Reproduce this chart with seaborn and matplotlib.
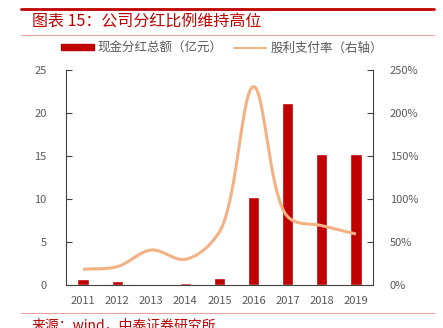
import numpy as np
import pandas as pd
import matplotlib
matplotlib.use("Agg")
import matplotlib.pyplot as plt
import seaborn as sns
from matplotlib.lines import Line2D
from matplotlib.patches import Patch

sns.set_theme(style="white")
plt.rcParams['font.family'] = ['Noto Sans CJK SC', 'DejaVu Sans']

years = ["2011", "2012", "2013", "2014", "2015", "2016", "2017", "2018", "2019"]
dividend = [0.7, 0.43, 0.05, 0.2, 0.78, 10.2, 21.2, 15.2, 15.2]
payout = [18.3, 21.3, 40.7, 29.9, 62.0, 230.6, 79.4, 69.0, 59.3]
left_ticks = [0, 5, 10, 15, 20, 25]
right_ticks = [0, 50, 100, 150, 200, 250]

BAR = "#C00000"
LINE = "#F4B183"
GRAY = "#595959"
SPINE = "#404040"

fig = plt.figure(figsize=(4.43, 3.28), dpi=100)
ax = fig.add_axes([66/443, 1-285/328, (373-66)/443, (285-70)/328])

df = pd.DataFrame({"year": years, "dividend": dividend})
sns.barplot(data=df, x="year", y="dividend", color=BAR, saturation=1, width=0.33, ax=ax)
ax.set_xlim(-0.5, len(years)-0.5)
ax.set_ylim(0, 25)
ax.set_yticks(left_ticks)
ax.set_xlabel("")
ax.set_ylabel("")

ax2 = ax.twinx()
# Centripetal Catmull-Rom smoothing of the drawn path, in pixel-like space
sx, sy = 34.1, 215/250
x = np.arange(len(payout), dtype=float) * sx
y = np.array(payout, dtype=float) * sy
P = np.column_stack([x, y])
P = np.vstack([2*P[0]-P[1], P, 2*P[-1]-P[-2]])
curve = []
alpha = 0.5
for i in range(1, len(P)-2):
    p0, p1, p2, p3 = P[i-1], P[i], P[i+1], P[i+2]
    t0 = 0.0
    t1 = t0 + np.linalg.norm(p1-p0)**alpha
    t2 = t1 + np.linalg.norm(p2-p1)**alpha
    t3 = t2 + np.linalg.norm(p3-p2)**alpha
    for t in np.linspace(t1, t2, 40):
        a1 = (t1-t)/(t1-t0)*p0 + (t-t0)/(t1-t0)*p1
        a2 = (t2-t)/(t2-t1)*p1 + (t-t1)/(t2-t1)*p2
        a3 = (t3-t)/(t3-t2)*p2 + (t-t2)/(t3-t2)*p3
        b1 = (t2-t)/(t2-t0)*a1 + (t-t0)/(t2-t0)*a2
        b2 = (t3-t)/(t3-t1)*a2 + (t-t1)/(t3-t1)*a3
        c = (t2-t)/(t2-t1)*b1 + (t-t1)/(t2-t1)*b2
        curve.append(c)
curve = np.array(curve)
ax2.plot(curve[:, 0]/sx, curve[:, 1]/sy, color=LINE, lw=2.2, solid_capstyle="butt")
ax2.set_ylim(0, 250)
ax2.set_yticks(right_ticks)
ax2.set_yticklabels([f"{v}%" for v in right_ticks])
ax2.set_xlim(-0.5, len(years)-0.5)

for a in (ax, ax2):
    a.spines["top"].set_visible(False)
    for s in ("left", "right", "bottom"):
        a.spines[s].set_color(SPINE)
        a.spines[s].set_linewidth(0.8)
    a.tick_params(colors=GRAY, labelsize=8, direction="in", length=4, width=0.8)
    a.tick_params(axis="both", color=SPINE)
ax.spines["right"].set_visible(False)
ax2.spines["left"].set_visible(False)
ax2.spines["bottom"].set_visible(False)

ax.set_xticks(np.arange(-0.5, len(years), 1), minor=False)
ax.set_xticklabels([])
ax.set_xticks(np.arange(len(years)), minor=True)
ax.set_xticklabels(years, minor=True)
ax.tick_params(axis="x", which="major", direction="in", length=4)
ax.tick_params(axis="x", which="minor", length=0, pad=8, labelsize=8, labelcolor=GRAY)
ax.tick_params(axis="y", pad=14)
ax2.tick_params(axis="y", pad=12)

handles = [Patch(color=BAR, label="现金分红总额（亿元）"),
           Line2D([0], [0], color=LINE, lw=1.5, label="股利支付率（右轴）")]
fig.legend(handles=handles, loc="center", bbox_to_anchor=(222/443, 1-48/328), ncol=2,
           frameon=False, fontsize=9, labelcolor=GRAY, handlelength=2.6, handleheight=0.35,
           columnspacing=0.9, handletextpad=0.3)

# Header / footer decorations
fig.add_artist(Line2D([21/443, 434/443], [1-8.5/328]*2, color=BAR, lw=2))
fig.add_artist(Line2D([21/443, 434/443], [1-35/328]*2, color="#E8A0A0", lw=0.8))
fig.add_artist(Line2D([21/443, 434/443], [1-313/328]*2, color="#E8A0A0", lw=0.8))
fig.text(32/443, 1-22/328, "图表 15：公司分红比例维持高位", color=BAR, fontsize=11.5,
         va="center", ha="left")
fig.text(32/443, 1-325/328, "来源：wind，中泰证券研究所", color=BAR, fontsize=10,
         va="center", ha="left")

fig.savefig("out.png", dpi=100)
